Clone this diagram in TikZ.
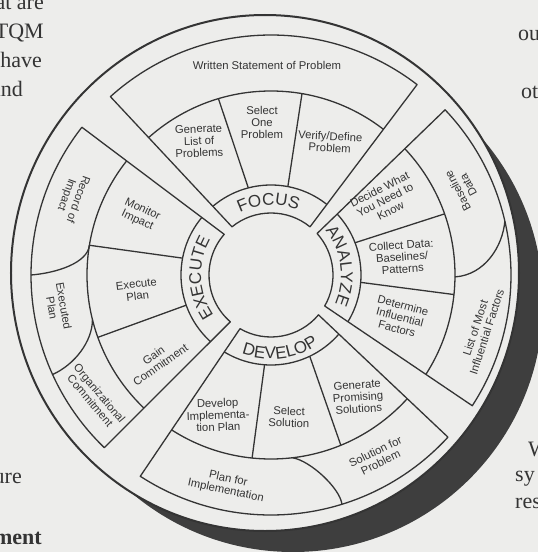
\documentclass[tikz,border=0pt]{standalone}
\usepackage{fontspec}
\setmainfont{Liberation Serif}
\setsansfont{Liberation Sans}
\usetikzlibrary{decorations.text}

\definecolor{fondo}{RGB}{237,237,235}
\definecolor{tinta}{RGB}{52,52,52}
\definecolor{sombra}{RGB}{62,62,62}

\newcommand{\bandafuente}{\sffamily\fontsize{17}{17}\selectfont\color{tinta}}

\tikzset{
  linea/.style={draw=tinta, line width=1.3pt, line join=round},
  celda/.style={font=\sffamily\fontsize{11.3}{12}\selectfont, text=tinta, align=center, inner sep=0pt},
  pagina/.style={font=\fontsize{22}{22}\selectfont, text=tinta, inner sep=0pt},
}

\begin{document}
\begin{tikzpicture}[x=1pt, y=1pt] % origen en el centro de la rueda
\newcommand{\radioa}{62}
\newcommand{\radiob}{90}
\newcommand{\radioc}{184}
\newcommand{\radiod}{240}
\newcommand{\sectorrueda}[4]{% lado inicial (#1 dentro, #2 fuera), lado final (#3, #4)
  \begin{scope}
    \clip (#1:\radioa) -- (#2:\radiod) arc[start angle=#2, end angle=#4, radius=\radiod]
      -- (#3:\radioa) arc[start angle=#3, end angle=#1, radius=\radioa] -- cycle;
    \draw[linea] (0,0) circle[radius=\radiob] (0,0) circle[radius=\radioc];
  \end{scope}
  \draw[linea] (#1:\radioa) -- (#2:\radiod) arc[start angle=#2, end angle=#4, radius=\radiod]
    -- (#3:\radioa) arc[start angle=#3, end angle=#1, radius=\radioa] -- cycle;
}
\useasboundingbox (-271,-277) rectangle (267,275);
\fill[fondo] (-271,-277) rectangle (267,275);
\coordinate (C) at (0,0);
\coordinate (O) at (-6,2);
\coordinate (S) at (22,-27);

% texto de la pagina
\node[pagina, anchor=base east] (izqa) at (-227,265) {at are};
\node[pagina, anchor=base east] (izqb) at (-227,236) {TQM};
\node[pagina, anchor=base east] (izqc) at (-229,207) {have};
\node[pagina, anchor=base east] (izqd) at (-248,178) {and};
\node[pagina, anchor=base east] (izqe) at (-249,-208) {ure};
\node[pagina, anchor=base east, font=\bfseries\fontsize{22}{22}\selectfont] (izqf) at (-229,-269) {ment};
\node[pagina, anchor=base west] (dera) at (247,234) {ou};
\node[pagina, anchor=base west] (derb) at (250,176) {ot};
\node[pagina, anchor=base west] (derc) at (257,-181) {W};
\node[pagina, anchor=base west] (derd) at (244,-206) {sy};
\node[pagina, anchor=base west] (dere) at (244,-233) {res};

\fill[sombra] (S) circle[radius=250]; % sombra
\fill[fondo] (O) ellipse[x radius=254, y radius=258];
\draw[tinta, line width=2pt] (O) ellipse[x radius=254, y radius=258];

\sectorrueda{51}{52.5}{129}{132}     % foco
\sectorrueda{139}{142}{229}{226}     % ejecutar
\sectorrueda{240}{237}{320}{317.5}   % desarrollar
\sectorrueda{-30}{-33}{42}{43.5}     % analizar

\draw[linea] (104.6:\radiob) -- (106.6:\radioc) (79.2:\radiob) -- (80.3:\radioc);
\draw[linea] (169.2:\radiob) -- (170.7:\radioc) (199.6:\radiob) -- (199.8:\radioc);
\draw[linea] (265.9:\radiob) -- (264.1:\radioc) (295.5:\radiob) -- (292.3:\radioc);
\draw[linea] (21:\radiob) -- (19.4:\radioc) (-4.7:\radiob) -- (-6.1:\radioc);

\draw[linea] (180:\radiod) .. controls +(25,2) and +(-2,-18) .. (170.7:\radioc);
\draw[linea] (204.5:\radiod) .. controls +(22,10) and +(0,-22) .. (194:\radioc);
\draw[linea] (276.7:\radioc) .. controls +(18,-3) and +(-2,16) .. (287.2:\radiod);
\draw[linea] (-0.6:\radioc) .. controls +(30,2) and +(-2,-25) .. (13:\radiod);

\path[decorate, decoration={text along path, text align=center, text={|\bandafuente|FOCUS}}]
  (132:70) arc[start angle=132, end angle=52, radius=70];
\path[decorate, decoration={text along path, text align=center, text={|\bandafuente|ANALYZE}}]
  (47.5:70) arc[start angle=47.5, end angle=-32.5, radius=70];
\path[decorate, decoration={text along path, text align=center, text={|\bandafuente|EXECUTE}}]
  (222.5:70) arc[start angle=222.5, end angle=142.5, radius=70];
\path[decorate, decoration={text along path, text align=center, text={|\bandafuente|DEVELOP}}]
  (237:84) arc[start angle=237, end angle=317, radius=84];

\node[celda] (escrito) at (-4,210) {Written Statement of Problem};
\node[celda, rotate=2] (generar) at (-72,134) {Generate\\List of\\Problems};
\node[celda] (elegir) at (-9,153) {Select\\One\\Problem};
\node[celda, rotate=-3] (verificar) at (59,133) {Verify/Define\\Problem};
\node[celda, rotate=27] (decidir) at (114,75) {Decide What\\You Need to\\Know};
\node[celda, rotate=4] (recoger) at (131,18) {Collect Data:\\Baselines/\\Patterns};
\node[celda, rotate=-15] (determinar) at (129,-42) {Determine\\Influential\\Factors};
\node[celda, rotate=118] (base) at (192,87) {Baseline\\Data};
\node[celda, rotate=72] (lista) at (210,-55) {List of Most\\Influential Factors};
\node[celda, rotate=4] (prometer) at (87,-122) {Generate\\Promising\\Solutions};
\node[celda, rotate=-1] (solucion) at (18,-142) {Select\\Solution};
\node[celda, rotate=2] (implementar) at (-53,-140) {Develop\\Implementa-\\tion Plan};
\node[celda, rotate=-12] (planimpl) at (-44,-210) {Plan for\\Implementation};
\node[celda, rotate=26] (solprob) at (107,-182) {Solution for\\Problem};
\node[celda, rotate=35] (ganar) at (-114,-85) {Gain\\Commitment};
\node[celda, rotate=7] (ejecutar) at (-134,-15) {Execute\\Plan};
\node[celda, rotate=-25] (monitor) at (-131,60) {Monitor\\Impact};
\node[celda, rotate=-110] (registro) at (-199,78) {Record of\\Impact};
\node[celda, rotate=-80] (ejecutado) at (-213,-32) {Executed\\Plan};
\node[celda, rotate=-50] (organizacion) at (-176,-122) {Organizational\\Commitment};
\end{tikzpicture}
\end{document}
